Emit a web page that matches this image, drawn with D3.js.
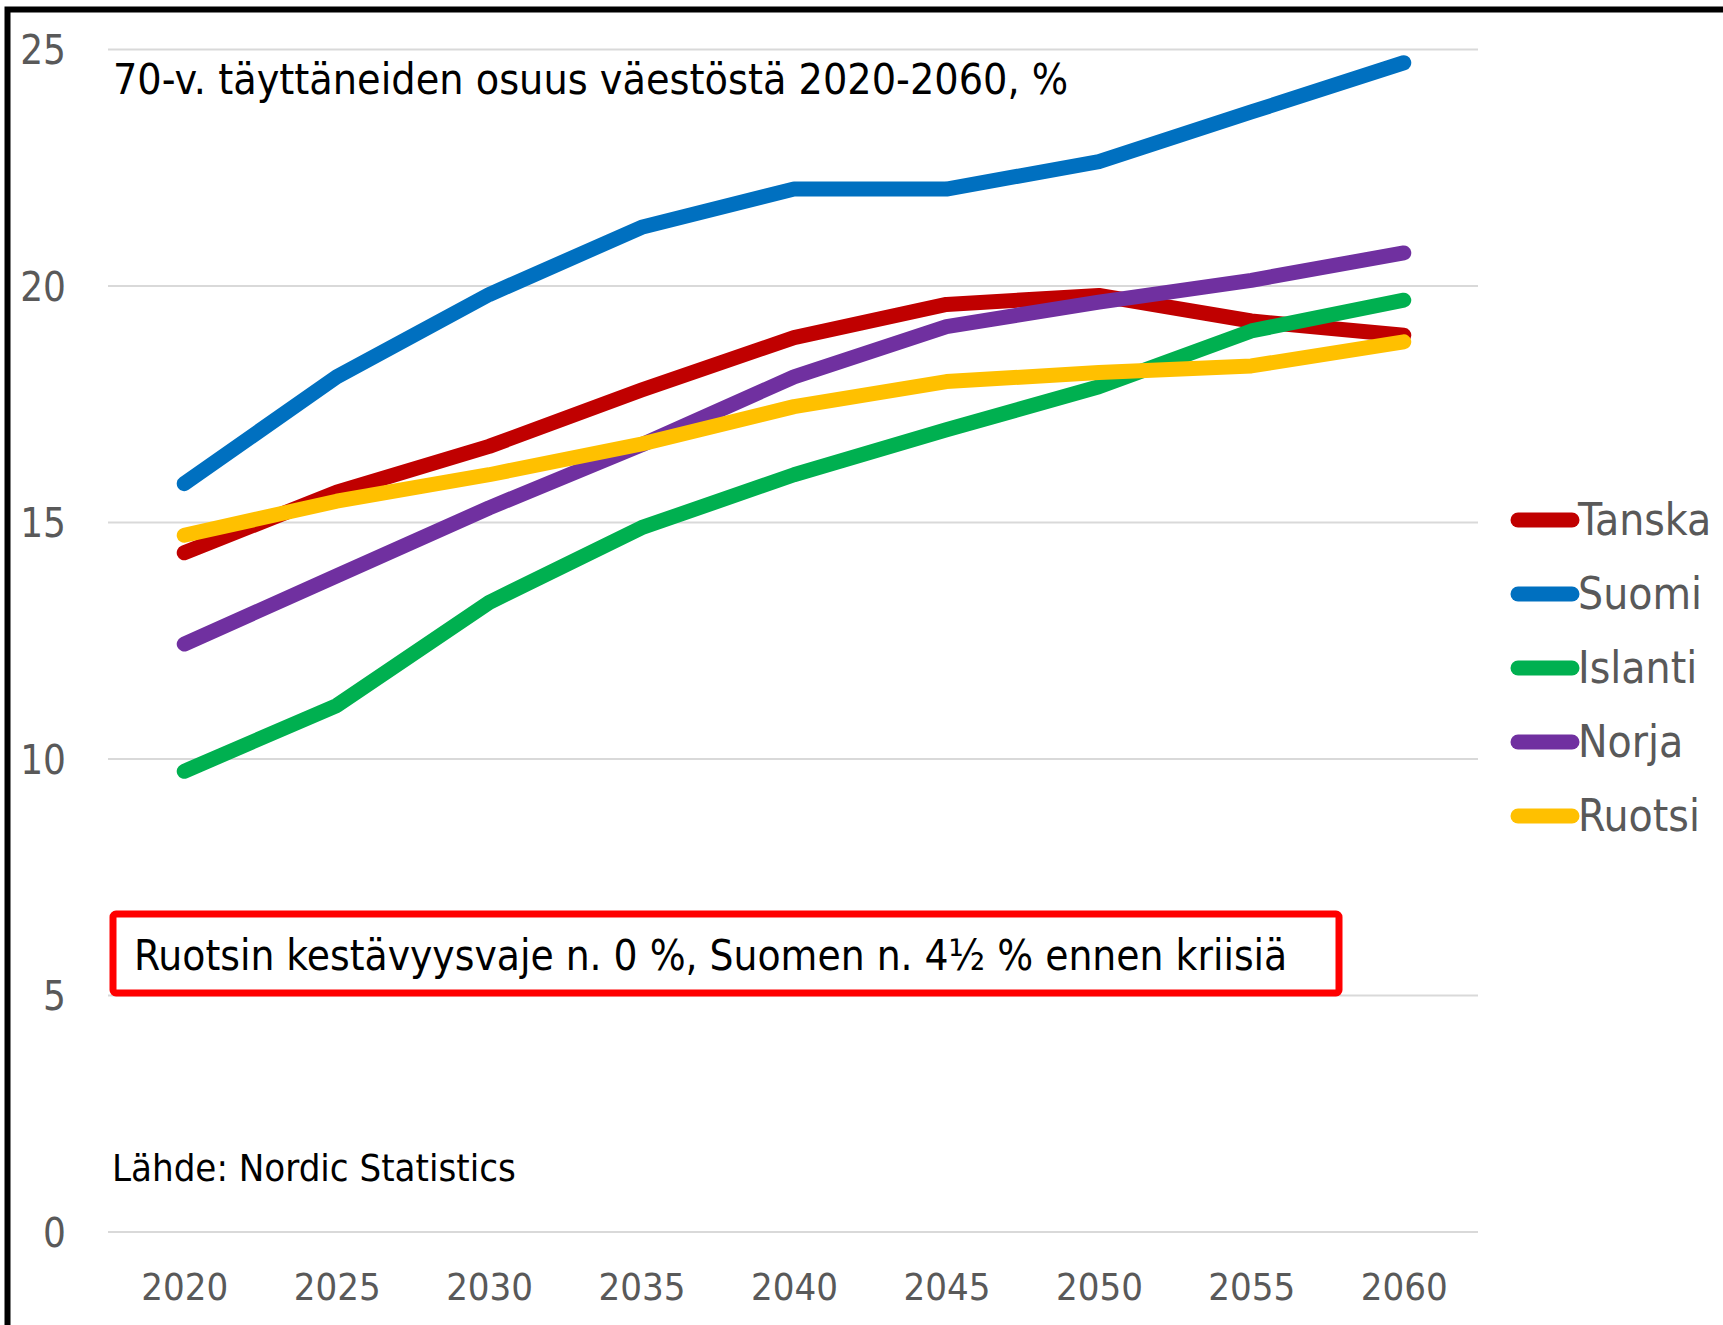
<!DOCTYPE html>
<html>
<head>
<meta charset="utf-8">
<script src="https://cdn.jsdelivr.net/npm/d3@7"></script>
<style>
  body { margin: 0; background: #fff; }
  svg text { font-family: "Liberation Sans Narrow", "DejaVu Sans Condensed", "Open Sans", sans-serif; }
</style>
</head>
<body>
<script>
var years = [2020, 2025, 2030, 2035, 2040, 2045, 2050, 2055, 2060];
var countries = ['Tanska', 'Suomi', 'Islanti', 'Norja', 'Ruotsi'];
var colors = ['#C00000', '#0070C0', '#00B050', '#7030A0', '#FFC000'];
var tanska = [14.36, 15.64, 16.61, 17.80, 18.91, 19.61, 19.80, 19.26, 18.96];
var suomi = [15.82, 18.08, 19.82, 21.24, 22.05, 22.05, 22.63, 23.68, 24.72];
var islanti = [9.74, 11.13, 13.31, 14.89, 16.01, 16.96, 17.87, 19.05, 19.70];
var norja = [12.43, 13.87, 15.31, 16.64, 18.08, 19.14, 19.66, 20.12, 20.70];
var ruotsi = [14.73, 15.45, 16.01, 16.66, 17.45, 17.98, 18.17, 18.31, 18.82];
var yTicks = [0, 5, 10, 15, 20, 25];

var series = [tanska, suomi, islanti, norja, ruotsi];

var width = 1723,
  height = 1325;

var svg = d3.select('body').append('svg')
  .attr('width', width)
  .attr('height', height);

// frame (cropped on the right and bottom)
svg.append('rect')
  .attr('x', 7.5).attr('y', 9.5)
  .attr('width', width + 20).attr('height', height + 20)
  .attr('fill', 'none')
  .attr('stroke', '#000')
  .attr('stroke-width', 6);

var x = d3.scalePoint()
  .domain(years)
  .range([108, 1480])
  .padding(0.5);

var y = d3.scaleLinear()
  .domain([0, 25])
  .range([1232, 49.5]);

// gridlines
svg.append('g')
  .selectAll('line')
  .data(yTicks)
  .enter().append('line')
  .attr('x1', 108).attr('x2', 1478)
  .attr('y1', d => y(d)).attr('y2', d => y(d))
  .attr('stroke', '#d9d9d9')
  .attr('stroke-width', 2);

// y axis labels
var yAxis = svg.append('g')
  .attr('transform', 'translate(66,0)')
  .call(d3.axisLeft(y).tickValues(yTicks).tickSize(0).tickPadding(0));
yAxis.select('.domain').remove();
yAxis.selectAll('text')
  .attr('fill', '#595959')
  .style('font-size', '40px')
  .attr('dy', '0.35em');

// x axis labels
var xAxis = svg.append('g')
  .attr('transform', 'translate(0,1287)')
  .call(d3.axisBottom(x).tickSize(0).tickPadding(0));
xAxis.select('.domain').remove();
xAxis.selectAll('text')
  .attr('fill', '#595959')
  .style('font-size', '38px')
  .attr('dy', '0.35em');

// lines
var line = d3.line()
  .x((d, i) => x(years[i]))
  .y(d => y(d));

svg.append('g')
  .selectAll('path')
  .data(series)
  .enter().append('path')
  .attr('d', line)
  .attr('fill', 'none')
  .attr('stroke', (d, i) => colors[i])
  .attr('stroke-width', 15)
  .attr('stroke-linecap', 'round')
  .attr('stroke-linejoin', 'round');

// legend
var legend = svg.append('g')
  .selectAll('g')
  .data(countries)
  .enter().append('g')
  .attr('transform', (d, i) => `translate(1518, ${520 + i * 74})`);

legend.append('line')
  .attr('x1', 0).attr('x2', 54)
  .attr('stroke', (d, i) => colors[i])
  .attr('stroke-width', 15)
  .attr('stroke-linecap', 'round');

legend.append('text')
  .attr('x', 60)
  .attr('dy', '0.35em')
  .attr('fill', '#595959')
  .style('font-size', '44px')
  .text(d => d);

// title
svg.append('text')
  .attr('x', 113).attr('y', 94)
  .attr('fill', '#000')
  .style('font-size', '42.6px')
  .text('70-v. täyttäneiden osuus väestöstä 2020-2060, %');

// note box
svg.append('rect')
  .attr('x', 113).attr('y', 914)
  .attr('width', 1226).attr('height', 79)
  .attr('rx', 3)
  .attr('fill', '#fff')
  .attr('stroke', '#ff0000')
  .attr('stroke-width', 7);

svg.append('text')
  .attr('x', 134).attr('y', 970)
  .attr('fill', '#000')
  .style('font-size', '42px')
  .text('Ruotsin kestävyysvaje n. 0 %, Suomen n. 4½ % ennen kriisiä');

// source
svg.append('text')
  .attr('x', 112).attr('y', 1181)
  .attr('fill', '#000')
  .style('font-size', '38px')
  .text('Lähde: Nordic Statistics');
</script>
</body>
</html>
